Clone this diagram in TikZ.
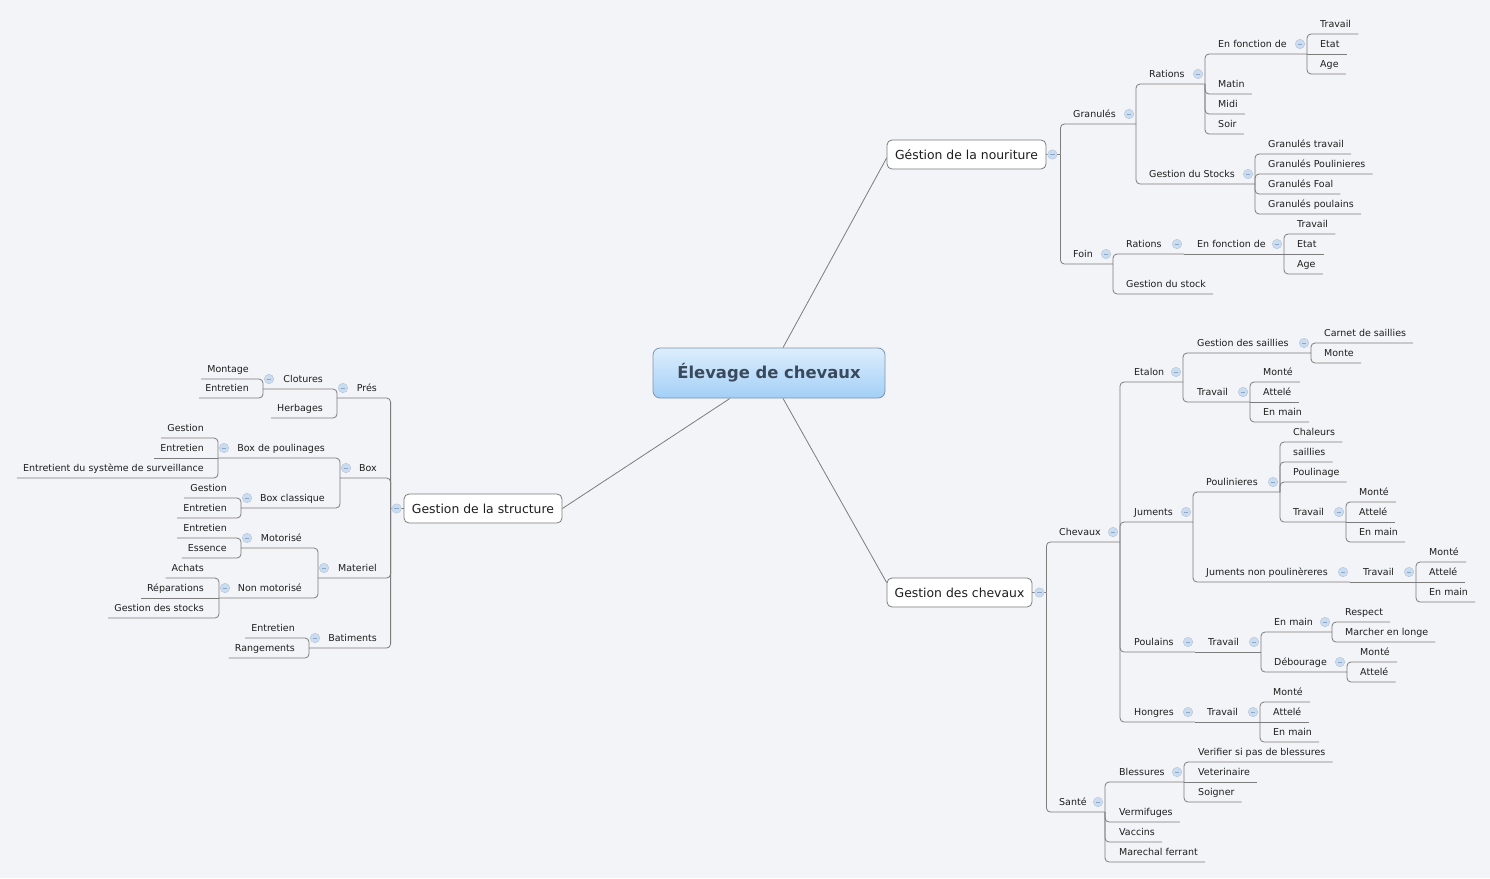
\documentclass[tikz,border=0pt]{standalone}
\usepackage{fontspec}
\setmainfont{DejaVu Sans}
\usetikzlibrary{calc}
\definecolor{bgc}{HTML}{F3F4F8}
\definecolor{lnc}{HTML}{7C7C7C}
\definecolor{txc}{HTML}{1E1E1E}
\definecolor{mfill}{HTML}{CCDCEF}
\definecolor{mdraw}{HTML}{AFC3DC}
\definecolor{mbar}{HTML}{8CA7C8}
\definecolor{rtop}{HTML}{DDEEFD}
\definecolor{rbot}{HTML}{A2CFF6}
\definecolor{rdraw}{HTML}{7D94AD}
\definecolor{rtxt}{HTML}{3A4A5C}
\pgfdeclarelayer{backmost}
\pgfdeclarelayer{back}
\pgfsetlayers{backmost,back,main}
\tikzset{
  lbl/.style={font=\fontsize{9.5}{11}\selectfont, text=txc, inner sep=0pt, yshift=-3.5pt},
  conn/.style={draw=lnc, line width=0.8pt, rounded corners=4pt},
  cline/.style={draw=lnc, line width=0.8pt},
  minusc/.style={circle, fill=mfill, draw=mdraw, line width=0.4pt, minimum size=9.5pt, inner sep=0pt,
    path picture={\draw[mbar, line width=0.8pt] ([xshift=-2.4pt]path picture bounding box.center) -- ([xshift=2.4pt]path picture bounding box.center);}},
  topicbox/.style={draw=lnc, fill=white, rounded corners=5pt, line width=0.8pt, inner sep=0pt,
    font=\fontsize{12.4}{14}\selectfont, text=txc, minimum height=29pt},
  rootbox/.style={draw=rdraw, top color=rtop, bottom color=rbot, rounded corners=7pt, line width=0.8pt,
    minimum width=232pt, minimum height=50pt, font=\fontsize{16.4}{19}\selectfont\bfseries, text=rtxt}
}
% right parent: id, x left, y, text, trunk x
\newcommand\pR[5]{\node[lbl,anchor=base west] (#1) at (#2,#3) {#4};
  \coordinate (#1-t) at (#5,#3+10);
  \node[minusc] (#1-m) at (#5-7,#3) {};}
% right leaf: id, x left, y, text
\newcommand\lR[4]{\node[lbl,anchor=base west] (#1) at (#2,#3) {#4};
  \coordinate (#1-t) at ([xshift=7pt,yshift=-6.5pt]#1.base east);}
% left parent: id, x right, y, text, trunk x
\newcommand\pL[5]{\node[lbl,anchor=base east] (#1) at (#2,#3) {#4};
  \coordinate (#1-t) at (#5,#3+10);
  \node[minusc] (#1-m) at (#5+6,#3) {};}
% left leaf
\newcommand\lL[4]{\node[lbl,anchor=base east] (#1) at (#2,#3) {#4};
  \coordinate (#1-t) at ([xshift=-6pt,yshift=-6.5pt]#1.base west);}
\newcommand\cn[2]{\draw[conn] (#1-t) |- (#2-t);}
\newcommand\cs[2]{\draw[conn] (#1-t) -- (#2-t);}
\begin{document}
\begin{tikzpicture}[x=1pt,y=-1pt]
\useasboundingbox (0,0) rectangle (1490,878);
\begin{pgfonlayer}{backmost}
\fill[bgc] (0,0) rectangle (1490,878);
\end{pgfonlayer}

% root and main topics
\node[rootbox] (root) at (769,373) {Élevage de chevaux};
\node[topicbox, minimum width=159pt] (nour) at (966.5,154.5) {Géstion de la nouriture};
\node[topicbox, minimum width=145pt] (chev) at (959.5,592.5) {Gestion des chevaux};
\node[topicbox, minimum width=158pt] (struct) at (483,508.5) {Gestion de la structure};
\coordinate (nour-t) at ([xshift=14pt]nour.east);
\coordinate (chev-t) at ([xshift=14pt]chev.east);
\coordinate (struct-t) at ([xshift=-13pt]struct.west);

% ---------- nourriture ----------
\pR{gran}{1073}{114}{Granulés}{1136}
\pR{foin}{1073}{254}{Foin}{1113}
\pR{grrat}{1149}{74}{Rations}{1205}
\pR{grgs}{1149}{174}{Gestion du Stocks}{1255}
\pR{gref}{1218}{44}{En fonction de}{1307}
\lR{grmatin}{1218}{84}{Matin}
\lR{grmidi}{1218}{104}{Midi}
\lR{grsoir}{1218}{124}{Soir}
\lR{gref1}{1320}{24}{Travail}
\lR{gref2}{1320}{44}{Etat}
\lR{gref3}{1320}{64}{Age}
\lR{gs1}{1268}{144}{Granulés travail}
\lR{gs2}{1268}{164}{Granulés Poulinieres}
\lR{gs3}{1268}{184}{Granulés Foal}
\lR{gs4}{1268}{204}{Granulés poulains}
\pR{forat}{1126}{244}{Rations}{1184}
\pR{foef}{1197}{244}{En fonction de}{1284}
\lR{foef1}{1297}{224}{Travail}
\lR{foef2}{1297}{244}{Etat}
\lR{foef3}{1297}{264}{Age}
\lR{fogs}{1126}{284}{Gestion du stock}

% ---------- chevaux ----------
\pR{chx}{1059}{532}{Chevaux}{1120}
\pR{sante}{1059}{802}{Santé}{1105}
\pR{etalon}{1134}{372}{Etalon}{1183}
\pR{jum}{1134}{512}{Juments}{1193}
\pR{poul}{1134}{642}{Poulains}{1195}
\pR{hong}{1134}{712}{Hongres}{1195}
\pR{etgs}{1197}{343}{Gestion des saillies}{1311}
\pR{ettr}{1197}{392}{Travail}{1250}
\lR{etgs1}{1324}{333}{Carnet de saillies}
\lR{etgs2}{1324}{353}{Monte}
\lR{ettr1}{1263}{372}{Monté}
\lR{ettr2}{1263}{392}{Attelé}
\lR{ettr3}{1263}{412}{En main}
\pR{jupl}{1206}{482}{Poulinieres}{1280}
\pR{junp}{1206}{572}{Juments non poulinèreres}{1350}
\lR{pl1}{1293}{432}{Chaleurs}
\lR{pl2}{1293}{452}{saillies}
\lR{pl3}{1293}{472}{Poulinage}
\pR{pltr}{1293}{512}{Travail}{1346}
\lR{pltr1}{1359}{492}{Monté}
\lR{pltr2}{1359}{512}{Attelé}
\lR{pltr3}{1359}{532}{En main}
\pR{nptr}{1363}{572}{Travail}{1416}
\lR{nptr1}{1429}{552}{Monté}
\lR{nptr2}{1429}{572}{Attelé}
\lR{nptr3}{1429}{592}{En main}
\pR{potr}{1208}{642}{Travail}{1261}
\pR{poem}{1274}{622}{En main}{1332}
\pR{podb}{1274}{662}{Débourage}{1347}
\lR{em1}{1345}{612}{Respect}
\lR{em2}{1345}{632}{Marcher en longe}
\lR{db1}{1360}{652}{Monté}
\lR{db2}{1360}{672}{Attelé}
\pR{hotr}{1207}{712}{Travail}{1260}
\lR{hotr1}{1273}{692}{Monté}
\lR{hotr2}{1273}{712}{Attelé}
\lR{hotr3}{1273}{732}{En main}
\pR{bl}{1119}{772}{Blessures}{1184}
\lR{verm}{1119}{812}{Vermifuges}
\lR{vacc}{1119}{832}{Vaccins}
\lR{mar}{1119}{852}{Marechal ferrant}
\lR{bl1}{1198}{752}{Verifier si pas de blessures}
\lR{bl2}{1198}{772}{Veterinaire}
\lR{bl3}{1198}{792}{Soigner}

% ---------- structure ----------
\pL{pres}{377}{388}{Prés}{337}
\pL{box}{377}{468}{Box}{340}
\pL{mat}{377}{568}{Materiel}{318}
\pL{bat}{377}{638}{Batiments}{309}
\pL{clo}{323}{379}{Clotures}{263}
\lL{herb}{323}{408}{Herbages}
\lL{clo1}{249}{369}{Montage}
\lL{clo2}{249}{388}{Entretien}
\pL{bp}{325}{448}{Box de poulinages}{218}
\pL{bc}{325}{498}{Box classique}{241}
\lL{bp1}{204}{428}{Gestion}
\lL{bp2}{204}{448}{Entretien}
\lL{bp3}{204}{468}{Entretient du système de surveillance}
\lL{bc1}{227}{488}{Gestion}
\lL{bc2}{227}{508}{Entretien}
\pL{mo}{302}{538}{Motorisé}{241}
\pL{nm}{302}{588}{Non motorisé}{219}
\lL{mo1}{227}{528}{Entretien}
\lL{mo2}{227}{548}{Essence}
\lL{nm1}{204}{568}{Achats}
\lL{nm2}{204}{588}{Réparations}
\lL{nm3}{204}{608}{Gestion des stocks}
\lL{bat1}{295}{628}{Entretien}
\lL{bat2}{295}{648}{Rangements}

\node[minusc] (nour-m) at ([xshift=6pt]nour.east) {};
\node[minusc] (chev-m) at ([xshift=7pt]chev.east) {};
\node[minusc] (struct-m) at ([xshift=-7pt]struct.west) {};

\begin{pgfonlayer}{back}
\draw[cline] ([xshift=14pt]root.north) -- ([yshift=-3.5pt]nour.west);
\draw[cline] ([xshift=14pt]root.south) -- ([yshift=10pt]chev.west);
\draw[cline] ([xshift=-39pt]root.south) -- (struct.east);
\draw[cline] (nour.east) -- (nour-t);
\draw[cline] (chev.east) -- (chev-t);
\draw[cline] (struct.west) -- (struct-t);
% nourriture
\cn{nour}{gran} \cn{nour}{foin}
\cn{gran}{grrat} \cn{gran}{grgs}
\cn{grrat}{gref} \cn{grrat}{grmatin} \cn{grrat}{grmidi} \cn{grrat}{grsoir}
\cn{gref}{gref1} \cs{gref}{gref2} \cn{gref}{gref3}
\cn{grgs}{gs1} \cn{grgs}{gs2} \cn{grgs}{gs3} \cn{grgs}{gs4}
\cn{foin}{forat} \cn{foin}{fogs}
\cs{forat}{foef}
\cn{foef}{foef1} \cs{foef}{foef2} \cn{foef}{foef3}
% chevaux
\cn{chev}{chx} \cn{chev}{sante}
\cn{chx}{etalon} \cn{chx}{jum} \cn{chx}{poul} \cn{chx}{hong}
\cn{etalon}{etgs} \cn{etalon}{ettr}
\cn{etgs}{etgs1} \cn{etgs}{etgs2}
\cn{ettr}{ettr1} \cs{ettr}{ettr2} \cn{ettr}{ettr3}
\cn{jum}{jupl} \cn{jum}{junp}
\cn{jupl}{pl1} \cn{jupl}{pl2} \cn{jupl}{pl3} \cn{jupl}{pltr}
\cn{pltr}{pltr1} \cs{pltr}{pltr2} \cn{pltr}{pltr3}
\cs{junp}{nptr}
\cn{nptr}{nptr1} \cs{nptr}{nptr2} \cn{nptr}{nptr3}
\cs{poul}{potr}
\cn{potr}{poem} \cn{potr}{podb}
\cn{poem}{em1} \cn{poem}{em2}
\cn{podb}{db1} \cn{podb}{db2}
\cs{hong}{hotr}
\cn{hotr}{hotr1} \cs{hotr}{hotr2} \cn{hotr}{hotr3}
\cn{sante}{bl} \cn{sante}{verm} \cn{sante}{vacc} \cn{sante}{mar}
\cn{bl}{bl1} \cs{bl}{bl2} \cn{bl}{bl3}
% structure
\cn{struct}{pres} \cn{struct}{box} \cn{struct}{mat} \cn{struct}{bat}
\cn{pres}{clo} \cn{pres}{herb}
\cn{clo}{clo1} \cn{clo}{clo2}
\cn{box}{bp} \cn{box}{bc}
\cn{bp}{bp1} \cs{bp}{bp2} \cn{bp}{bp3}
\cn{bc}{bc1} \cn{bc}{bc2}
\cn{mat}{mo} \cn{mat}{nm}
\cn{mo}{mo1} \cn{mo}{mo2}
\cn{nm}{nm1} \cs{nm}{nm2} \cn{nm}{nm3}
\cn{bat}{bat1} \cn{bat}{bat2}
\end{pgfonlayer}
\end{tikzpicture}
\end{document}
